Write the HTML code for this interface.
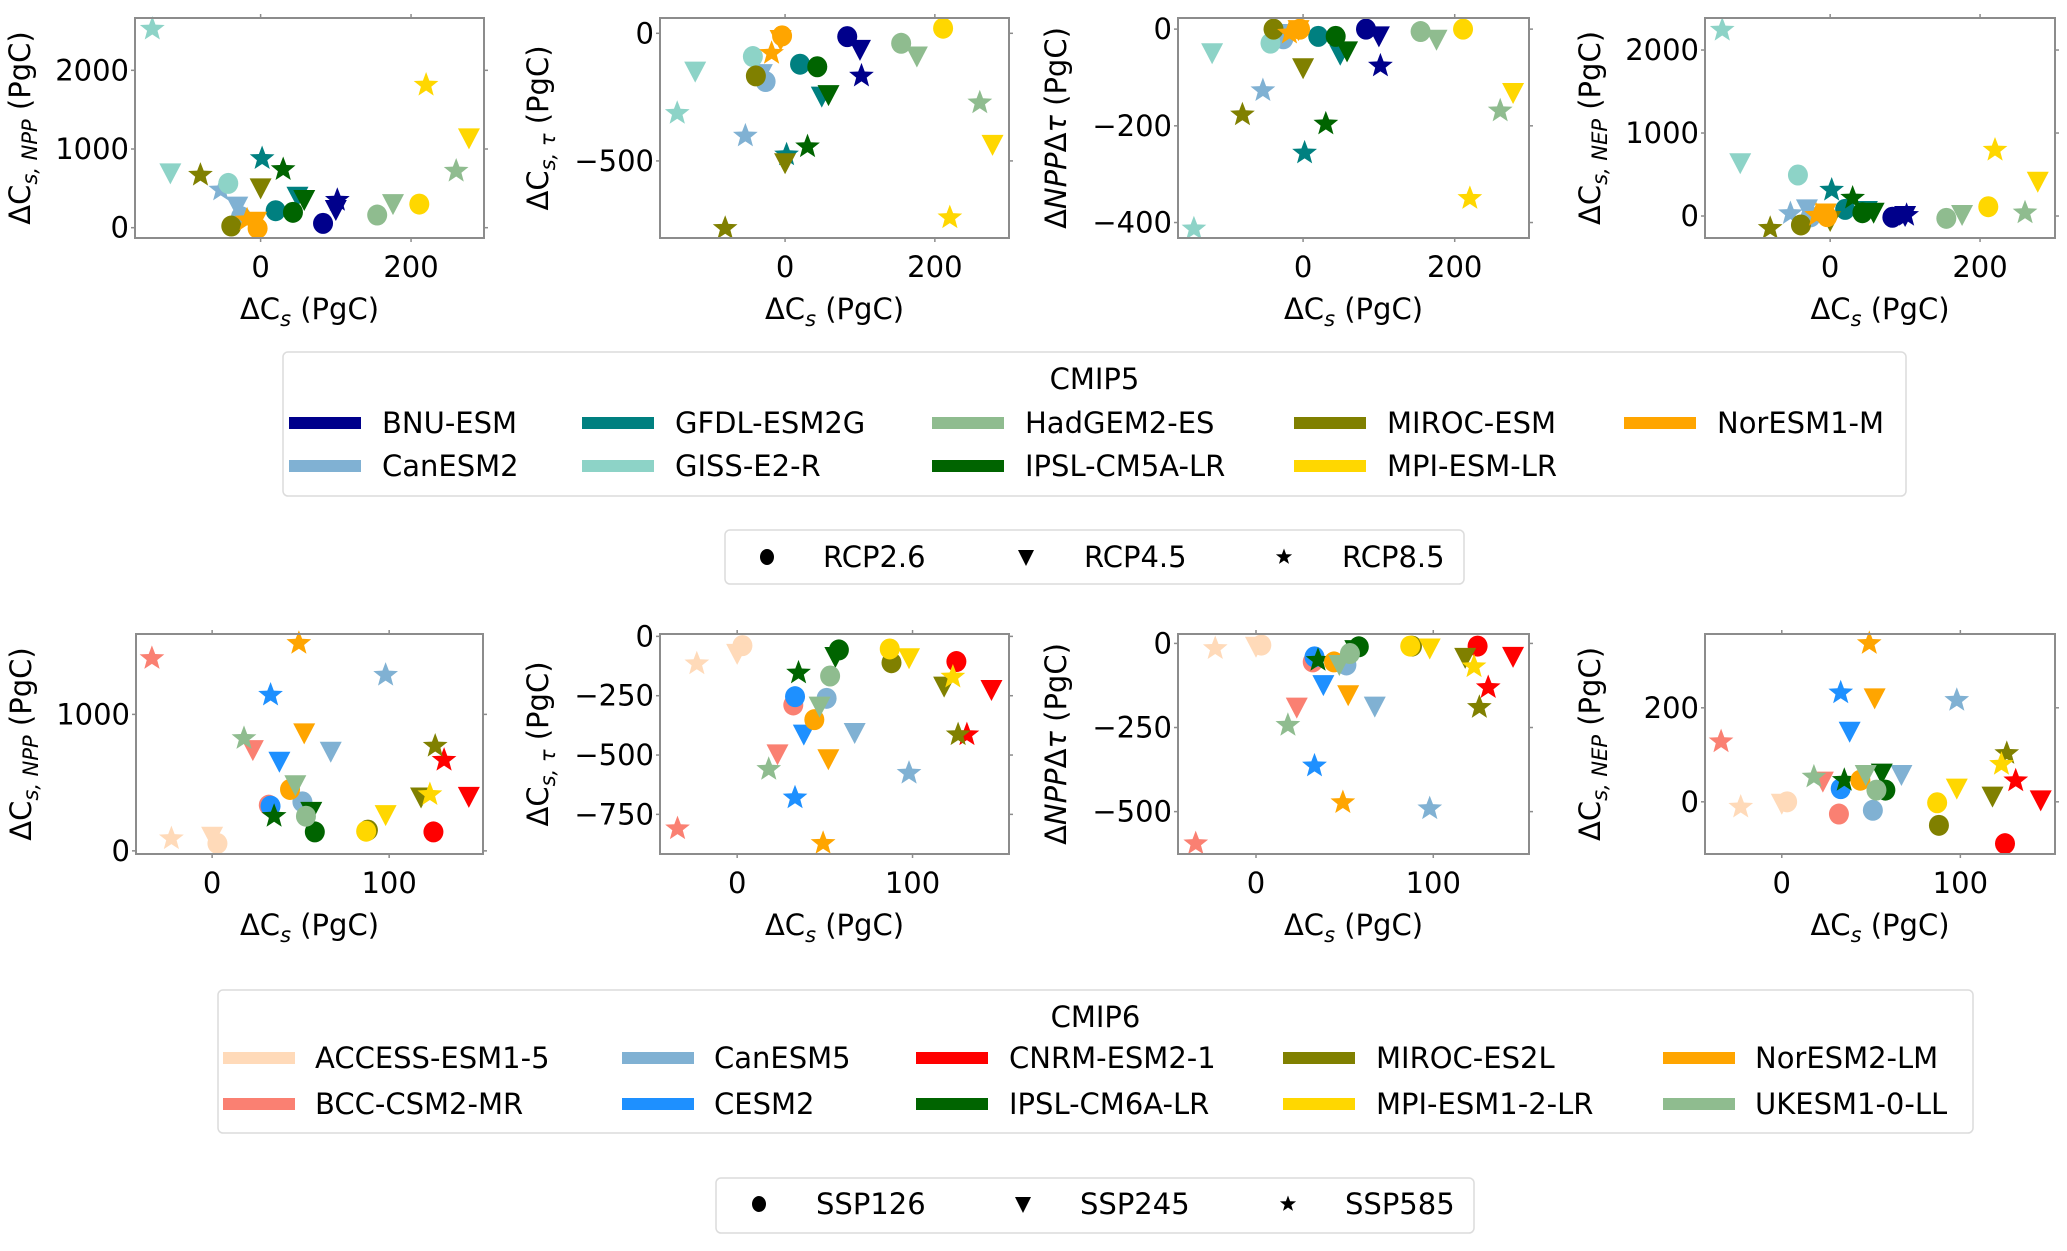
<!DOCTYPE html>
<html><head><meta charset="utf-8">
<style>
html,body{margin:0;padding:0;background:#fff;}
svg{display:block;font-family:"DejaVu Sans","Liberation Sans",sans-serif;}
</style></head>
<body>
<svg id="fig" width="2067" height="1251" viewBox="0 0 2067 1251" xmlns="http://www.w3.org/2000/svg"></svg>
<script>
// ---------- CMIP5 data (scenario order: RCP2.6, RCP4.5, RCP8.5) ----------
const models5 = ["BNU-ESM","CanESM2","GFDL-ESM2G","GISS-E2-R","HadGEM2-ES","IPSL-CM5A-LR","MIROC-ESM","MPI-ESM-LR","NorESM1-M"];
const colors5 = ["#00008b","#80b1d3","#008080","#8dd3c7","#8fbc8f","#006400","#808000","#ffd700","#ffa500"];
const dCs5 = [[83,100,102],[-26,-31,-53],[20,49,2],[-43,-120,-144],[155,176,260],[43,58,30],[-39,0,-80],[211,277,220],[-4,-6,-18]];
const npp5 = [[55,225,350],[140,267,480],[216,394,880],[563,690,2525],[161,300,720],[195,352,740],[21,500,669],[300,1135,1813],[-8,76,100]];
const tau5 = [[-13,-65,-167],[-189,-160,-402],[-121,-248,-476],[-91,-150,-313],[-39,-91,-272],[-131,-242,-444],[-167,-509,-764],[20,-437,-722],[-10,-26,-78]];
const nppTau5 = [[0,-15,-76],[-20,-10,-127],[-15,-53,-256],[-29,-50,-413],[-5,-22,-169],[-15,-46,-196],[0,-81,-177],[0,-132,-350],[0,-2,-8]];
const nep5 = [[-15,0,10],[-10,80,30],[80,60,313],[494,636,2241],[-28,12,40],[40,40,217],[-108,-60,-148],[112,413,795],[-8,30,10]];
// ---------- CMIP6 data (scenario order: SSP126, SSP245, SSP585) ----------
const models6 = ["ACCESS-ESM1-5","BCC-CSM2-MR","CanESM5","CESM2","CNRM-ESM2-1","IPSL-CM6A-LR","MIROC-ES2L","MPI-ESM1-2-LR","NorESM2-LM","UKESM1-0-LL"];
const colors6 = ["#ffdab9","#fa8072","#80b1d3","#1e90ff","#ff0000","#006400","#808000","#ffd700","#ffa500","#8fbc8f"];
const dCs6 = [[3,0,-23],[32,23,-34],[51,67,98],[33,38,33],[125,145,131],[58,56,35],[88,118,126],[87,98,123],[44,52,49],[53,47,18]];
const npp6 = [[54,103,90],[335,738,1410],[359,726,1288],[328,653,1142],[139,396,665],[139,286,254],[152,391,768],[144,262,413],[450,861,1521],[254,481,824]];
const tau6 = [[-39,-74,-115],[-289,-497,-810],[-261,-407,-576],[-254,-414,-680],[-106,-226,-414],[-57,-87,-154],[-111,-212,-414],[-53,-92,-171],[-351,-518,-872],[-167,-296,-560]];
const nppTau6 = [[-5,-10,-15],[-55,-191,-595],[-64,-188,-491],[-40,-124,-364],[-8,-40,-131],[-10,-20,-50],[-8,-43,-190],[-8,-15,-69],[-55,-154,-473],[-30,-64,-243]];
const nep6 = [[0,-4,-11],[-26,43,128],[-18,57,216],[28,149,232],[-89,3,45],[25,60,46],[-50,11,103],[-2,28,80],[46,220,337],[25,57,53]];
// tick labels
const xTicksTop = [0,200];
const xTicksBot = [0,100];
const yTicks = [[0,1000,2000],[0,-500],[0,-200,-400],[0,1000,2000],[0,1000],[0,-250,-500,-750],[0,-250,-500],[0,200]];

const NS="http://www.w3.org/2000/svg";
const svg=document.getElementById('fig');
function mk(tag,attrs,parent){const e=document.createElementNS(NS,tag);for(const k in attrs)e.setAttribute(k,attrs[k]);(parent||svg).appendChild(e);return e;}

const panels=[
 {l:135,t:18,w:349,h:220,xd:[-167,297],yd:[-131,2665]},
 {l:660,t:18,w:349,h:220,xd:[-167,299],yd:[-802,60]},
 {l:1178,t:18,w:351,h:220,xd:[-165,298],yd:[-432,23]},
 {l:1705,t:18,w:350,h:220,xd:[-167,300],yd:[-265,2386]},
 {l:136,t:634,w:347,h:220,xd:[-43,153],yd:[-23,1589]},
 {l:660,t:634,w:349,h:220,xd:[-44,155],yd:[-917,10]},
 {l:1178,t:634,w:351,h:220,xd:[-44,154],yd:[-626,28]},
 {l:1705,t:634,w:350,h:220,xd:[-43,153],yd:[-111,357]}
];
const yLabels=[
 'ΔC<tspan font-style="italic" font-size="21" dy="7">s, NPP</tspan><tspan dy="-7"> (PgC)</tspan>',
 'ΔC<tspan font-style="italic" font-size="21" dy="7">s, τ</tspan><tspan dy="-7"> (PgC)</tspan>',
 'Δ<tspan font-style="italic">NPP</tspan>Δ<tspan font-style="italic">τ</tspan> (PgC)',
 'ΔC<tspan font-style="italic" font-size="21" dy="7">s, NEP</tspan><tspan dy="-7"> (PgC)</tspan>'
];
const yNames=['npp','tau','npp-tau','nep'];
function fmt(v){return v<0?'\u2212'+Math.abs(v):String(v);}

function marker(g,kind,cx,cy,col){
  let e;
  if(kind===0){e=mk('ellipse',{cx:cx,cy:cy,rx:10,ry:10.5,fill:col},g);}
  else if(kind===1){e=mk('polygon',{points:`${cx-11},${cy-10} ${cx+11},${cy-10} ${cx},${cy+11}`,fill:col},g);}
  else{let p=[];for(let i=0;i<10;i++){const r=i%2?5.5:13;const a=-Math.PI/2+i*Math.PI/5;p.push((cx+r*Math.cos(a)).toFixed(1)+','+(cy+r*Math.sin(a)).toFixed(1));}
    e=mk('polygon',{points:p.join(' '),fill:col},g);}
  return e;
}

panels.forEach((P,pi)=>{
  const g=mk('g',{});
  
  
  const sx=v=>P.l+(v-P.xd[0])/(P.xd[1]-P.xd[0])*P.w;
  const sy=v=>P.t+P.h-(v-P.yd[0])/(P.yd[1]-P.yd[0])*P.h;
  const top=pi<4;
  const models=top?models5:models6, cols=top?colors5:colors6, xs=top?dCs5:dCs6;
  const ys=[[npp5,tau5,nppTau5,nep5],[npp6,tau6,nppTau6,nep6]][top?0:1][pi%4];
  models.forEach((m,mi)=>{
    for(let s=0;s<3;s++){
      const e=marker(g,s,sx(xs[mi][s]),sy(ys[mi][s]),cols[mi]);
      
      
    }
  });
  const fr=mk('rect',{x:P.l,y:P.t,width:P.w,height:P.h,fill:'none',stroke:'#8c8c8c','stroke-width':2},g);
  
  
  (top?xTicksTop:xTicksBot).forEach(v=>{
    const x=sx(v);
    mk('line',{x1:x,x2:x,y1:P.t+P.h,y2:P.t+P.h+4,stroke:'#8c8c8c','stroke-width':1.5},g);
    mk('line',{x1:x,x2:x,y1:P.t,y2:P.t-4,stroke:'#8c8c8c','stroke-width':1.5},g);
    const t=mk('text',{x:x,y:P.t+P.h+39,'text-anchor':'middle','font-size':29,fill:'#000'},g);
    t.textContent=fmt(v);
    
    
  });
  yTicks[pi].forEach(v=>{
    const y=sy(v);
    mk('line',{x1:P.l,x2:P.l-4,y1:y,y2:y,stroke:'#8c8c8c','stroke-width':1.5},g);
    mk('line',{x1:P.l+P.w,x2:P.l+P.w+4,y1:y,y2:y,stroke:'#8c8c8c','stroke-width':1.5},g);
    const t=mk('text',{x:P.l-6,y:y+10,'text-anchor':'end','font-size':29,fill:'#000'},g);
    t.textContent=fmt(v);
    
    
  });
  const xl=mk('text',{x:P.l+P.w/2,y:P.t+P.h+81,'text-anchor':'middle','font-size':29,fill:'#000'},g);
  xl.innerHTML='ΔC<tspan font-style="italic" font-size="21" dy="7">s</tspan><tspan dy="-7"> (PgC)</tspan>';
  
  
  const hasNeg=yTicks[pi].some(v=>v<0);
  const lx=P.l-(hasNeg?112:105), ly=P.t+P.h/2;
  const yl=mk('text',{x:lx,y:ly,'text-anchor':'middle','font-size':29,fill:'#000',transform:`rotate(-90 ${lx} ${ly})`},g);
  yl.innerHTML=yLabels[pi%4];
  
  
});

// ---------- legends ----------
function colorLegend(name,title,box,colX,textX,rowY,models,cols){
  const g=mk('g',{});
  
  
  mk('rect',{x:box[0],y:box[1],width:box[2],height:box[3],rx:5,fill:'#fff',stroke:'#dcdcdc','stroke-width':1.5},g);
  const tt=mk('text',{x:box[0]+box[2]/2,y:box[1]+37,'text-anchor':'middle','font-size':29,fill:'#000'},g);
  tt.textContent=title;
  
  
  models.forEach((m,i)=>{
    const c=Math.floor(i/2), r=i%2;
    const e=mk('g',{},g);
    
    
    mk('rect',{x:colX[c],y:rowY[r]-6,width:72,height:12,fill:cols[i]},e);
    const t=mk('text',{x:textX[c],y:rowY[r]+10,'font-size':29,fill:'#000'},e);
    t.textContent=m;
  });
}
colorLegend('legend-cmip5','CMIP5',[283,352,1623,144],[289,582,932,1294,1624],[382,675,1025,1387,1717],[423,466],models5,colors5);
colorLegend('legend-cmip6','CMIP6',[218,990,1755,143],[223,622,916,1283,1663],[315,714,1009,1376,1755],[1058,1104],models6,colors6);

function markerLegend(name,box,mx,tx,cy,labels){
  const g=mk('g',{});
  
  
  mk('rect',{x:box[0],y:box[1],width:box[2],height:box[3],rx:5,fill:'#fff',stroke:'#dcdcdc','stroke-width':1.5},g);
  labels.forEach((l,i)=>{
    const e=mk('g',{},g);
    
    
    if(i===0)mk('ellipse',{cx:mx[i],cy:cy,rx:7,ry:8,fill:'#000'},e);
    else if(i===1)mk('polygon',{points:`${mx[i]-8},${cy-7} ${mx[i]+8},${cy-7} ${mx[i]},${cy+9}`,fill:'#000'},e);
    else{let p=[];for(let k=0;k<10;k++){const r=k%2?3.5:8.5;const a=-Math.PI/2+k*Math.PI/5;p.push((mx[i]+r*Math.cos(a)).toFixed(1)+','+(cy+r*Math.sin(a)).toFixed(1));}mk('polygon',{points:p.join(' '),fill:'#000'},e);}
    const t=mk('text',{x:tx[i],y:cy+10,'font-size':29,fill:'#000'},e);
    t.textContent=l;
  });
}
markerLegend('legend-rcp',[725,530,739,54],[767,1026,1284],[823,1084,1342],557,['RCP2.6','RCP4.5','RCP8.5']);
markerLegend('legend-ssp',[716,1178,758,55],[759,1023,1288],[816,1080,1345],1204,['SSP126','SSP245','SSP585']);
</script>
</body></html>
